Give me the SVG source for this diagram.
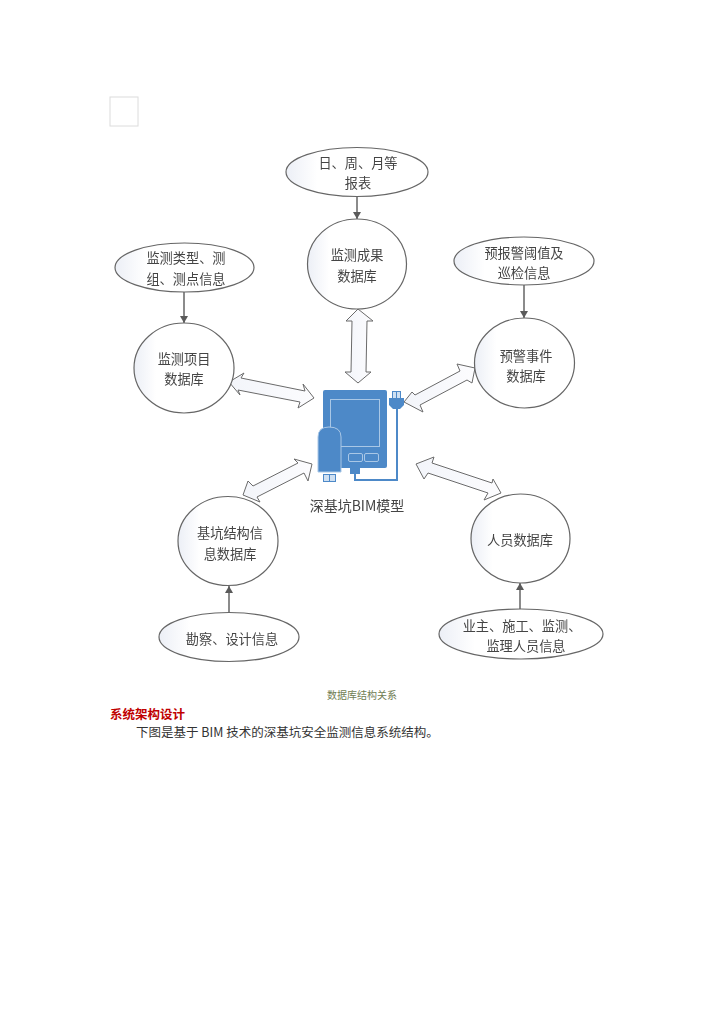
<svg xmlns="http://www.w3.org/2000/svg" width="724" height="1024" viewBox="0 0 724 1024">
<style>
text{font-family:"Noto Sans CJK SC","Liberation Sans",sans-serif;text-anchor:middle}
.l{font-size:13.2px;fill:#444}
.s{fill:url(#g);stroke:#666;stroke-width:1.2}
.a{fill:url(#h);stroke:#6a6a6a;stroke-width:1;stroke-linejoin:miter}
.c{stroke:#5a5a5a;stroke-width:1.4;fill:none;marker-end:url(#m)}
.b{fill:#4d89c8}
.i{fill:none;stroke:#a9c7e6;stroke-width:1}
</style>
<defs>
<linearGradient id="g" x1="0" x2="1" y1="0" y2="0"><stop offset="0" stop-color="#eceff6"/><stop offset=".22" stop-color="#ffffff"/><stop offset="1" stop-color="#ffffff"/></linearGradient>
<linearGradient id="h" x1="0" x2="1" y1="0" y2="0"><stop offset="0" stop-color="#f3f5fa"/><stop offset="1" stop-color="#fcfcfe"/></linearGradient>
<marker id="m" markerUnits="userSpaceOnUse" markerWidth="8" markerHeight="8" refX="7" refY="4" orient="auto"><path d="M0,0L7,4L0,8z" fill="#5a5a5a"/></marker>
<filter id="f" x="-2%" y="-2%" width="104%" height="104%"><feGaussianBlur stdDeviation="0.4"/></filter>
</defs>
<rect width="724" height="1024" fill="#fff"/>
<rect x="110" y="97" width="28" height="29" fill="#fff" stroke="#dcdcdc"/>
<g filter="url(#f)">
<g id="connectors">
<line class="c" x1="357" y1="196" x2="357" y2="219"/>
<line class="c" x1="184" y1="292" x2="184" y2="323"/>
<line class="c" x1="524" y1="285" x2="524" y2="318"/>
<line class="c" x1="229" y1="613" x2="229" y2="586"/>
<line class="c" x1="520" y1="609" x2="520" y2="583"/>
<polygon class="a" points="358,309 373,321 367,321 366,372 371,372 358,383 345,372 351,372 352,321 346,321"/>
<polygon class="a" points="229,382 244,373 241,378 305,391 303,384 314,398 298,408 300,402 238,390 240,395"/>
<polygon class="a" points="475,368 457,364 460,371 415,395 412,392 404,402 423,412 420,405 467,380 472,383"/>
<polygon class="a" points="312,464 294,459 298,463 253,486 248,481 243,495 260,502 257,497 304,473 308,481"/>
<polygon class="a" points="416,464 434,457 432,463 492,483 493,479 501,493 484,500 488,493 428,473 424,479"/>
</g>
<g id="n-report"><ellipse class="s" cx="357" cy="172" rx="71" ry="24.5"/><text class="l" x="358" y="168">日、周、月等</text><text class="l" x="358" y="188">报表</text></g>
<g id="n-result"><ellipse class="s" cx="357" cy="264" rx="49.5" ry="45"/><text class="l" x="357" y="260">监测成果</text><text class="l" x="357" y="281">数据库</text></g>
<g id="n-type"><ellipse class="s" cx="184.5" cy="267.5" rx="69.5" ry="24.5"/><text class="l" x="186" y="263">监测类型、测</text><text class="l" x="186" y="284">组、测点信息</text></g>
<g id="n-project"><ellipse class="s" cx="184" cy="368" rx="50" ry="45"/><text class="l" x="184" y="364">监测项目</text><text class="l" x="184" y="384">数据库</text></g>
<g id="n-threshold"><ellipse class="s" cx="524" cy="261" rx="70" ry="24"/><text class="l" x="524" y="258">预报警阈值及</text><text class="l" x="524" y="278">巡检信息</text></g>
<g id="n-event"><ellipse class="s" cx="524.5" cy="363" rx="50" ry="45"/><text class="l" x="526" y="361">预警事件</text><text class="l" x="526" y="381">数据库</text></g>
<g id="n-struct"><ellipse class="s" cx="228" cy="541" rx="50" ry="44.5"/><text class="l" x="230" y="538">基坑结构信</text><text class="l" x="230" y="559">息数据库</text></g>
<g id="n-survey"><ellipse class="s" cx="229" cy="637" rx="70" ry="24.5"/><text class="l" x="232" y="644">勘察、设计信息</text></g>
<g id="n-staff"><ellipse class="s" cx="520.5" cy="538.5" rx="49.5" ry="44.5"/><text class="l" x="520" y="545">人员数据库</text></g>
<g id="n-people"><ellipse class="s" cx="521" cy="634" rx="82" ry="25"/><text class="l" x="522" y="631">业主、施工、监测、</text><text class="l" x="526" y="651">监理人员信息</text></g>
<g id="n-bim">
<rect class="b" x="323" y="390" width="64" height="78" rx="2"/>
<rect class="i" x="330.500" y="399.500" width="49" height="47"/>
<rect class="i" x="348.500" y="453.500" width="14" height="8" rx="1.500"/>
<rect class="i" x="364.500" y="453.500" width="14" height="8" rx="1.500"/>
<rect class="b" x="350" y="468" width="10" height="6"/>
<path d="M355,474V480H397V408" fill="none" stroke="#4d89c8" stroke-width="2"/>
<rect x="392.500" y="391.500" width="8" height="7" fill="#cfe0f2" stroke="#4d89c8"/>
<rect class="b" x="396" y="392" width="1" height="6"/>
<path class="b" d="M389,398H404V405L400,409H393L389,405Z"/>
<path class="b" d="M318,472V437Q318,427 329,427Q341,427 341,437V472Z" stroke="#a9c7e6" stroke-width="1"/>
<rect x="323.500" y="474.500" width="12" height="7" fill="#cfe0f2" stroke="#4d89c8"/>
<rect class="b" x="329" y="475" width="1" height="6"/>
<text x="357" y="511" style="font-size:14px;fill:#444">深基坑BIM模型</text>
</g>
</g>
<text x="362" y="699" style="font-size:10px;fill:#6f7d52">数据库结构关系</text>
<text x="110" y="719" style="font-size:12.5px;font-weight:700;fill:#c00000;text-anchor:start">系统架构设计</text>
<text x="136" y="737" style="font-size:12.5px;fill:#333;text-anchor:start">下图是基于 BIM 技术的深基坑安全监测信息系统结构。</text>
</svg>
